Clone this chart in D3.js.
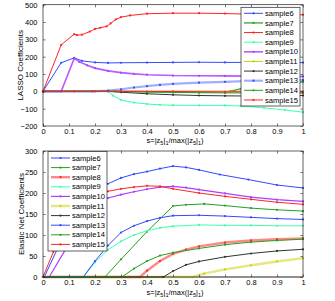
<!DOCTYPE html>
<html>
<head>
<meta charset="utf-8">
<script src="https://cdn.jsdelivr.net/npm/d3@7"></script>
<style>
body { margin: 0; background: #fff; }
text { font-family: "Liberation Sans", Arial, sans-serif; fill: #000; }
</style>
</head>
<body>
<svg id="chart" width="335" height="301"></svg>
<script>
// sample names, shared by both panels
var names = ["sample6", "sample7", "sample8", "sample9", "sample10",
             "sample11", "sample12", "sample13", "sample14", "sample15"];

// x ticks (both panels), y ticks per panel
var xTicks = [0, 0.1, 0.2, 0.3, 0.4, 0.5, 0.6, 0.7, 0.8, 0.9, 1];
var lassoTicks = [-200, -100, 0, 100, 200, 300, 400, 500];
var enTicks = [0, 50, 100, 150, 200, 250, 300];

// LASSO path, [s, coefficient]
var lasso6 = [[0,0],[0.07,165],[0.12,193],[0.15,176],[0.2,167],[0.25,164],[0.3,165],[0.4,166],[0.5,167],[0.6,168],[0.7,167],[0.8,167],[0.9,166],[1,166]];
var lasso7 = [[0,0],[0.3,0],[0.4,-2],[0.5,-3],[0.6,-3],[0.72,0],[0.76,15],[0.8,24],[0.9,41],[1,55]];
var lasso8 = [[0,0],[0.07,268],[0.12,330],[0.13,324],[0.15,327],[0.18,345],[0.2,360],[0.22,367],[0.245,375],[0.26,392],[0.28,415],[0.3,428],[0.335,438],[0.4,448],[0.5,451],[0.6,451],[0.7,449],[0.8,445],[0.9,443],[1,442]];
var lasso9 = [[0,0],[0.25,0],[0.27,-25],[0.3,-50],[0.35,-65],[0.4,-73],[0.45,-78],[0.5,-80],[0.6,-81],[0.7,-81],[0.76,-85],[0.85,-95],[0.93,-108],[1,-120]];
var lasso10 = [[0,0],[0.07,0],[0.12,190],[0.14,170],[0.17,150],[0.2,134],[0.25,118],[0.3,108],[0.35,101],[0.4,96],[0.5,91],[0.6,90],[0.7,89],[0.8,88],[0.9,87],[1,86]];
var lasso11 = [[0,0],[0.5,0],[1,-3]];
var lasso12 = [[0,0],[0.25,0],[0.3,-5],[0.4,-14],[0.5,-20],[0.6,-24],[0.7,-26],[0.8,-27],[0.9,-26],[1,-24]];
var lasso13 = [[0,0],[0.19,0],[0.25,5],[0.3,12],[0.35,22],[0.4,30],[0.45,37],[0.5,43],[0.6,50],[0.7,55],[0.8,60],[0.9,63],[1,65]];
var lasso14 = [[0,0],[0.28,0],[0.4,-4],[0.5,-6],[0.6,-8],[0.7,-9],[1,-10]];
var lasso15 = [[0,0],[0.12,0],[0.2,0],[0.3,0],[0.5,-1],[0.7,-3],[1,-2]];

// Elastic net path, [s, coefficient]
var en6 = [[0,0],[0.005,0],[0.053,64],[0.1,130],[0.15,178],[0.2,205],[0.25,222],[0.3,236],[0.35,245],[0.4,251],[0.45,258],[0.5,264],[0.55,261],[0.6,255],[0.68,244],[0.79,232],[0.9,219],[1,212]];
var en7 = [[0,0],[0.238,0],[0.3,42],[0.4,108],[0.5,169],[0.55,172],[0.62,174],[0.7,170],[0.8,164],[0.9,160],[1,157]];
var en8 = [[0,0],[0.373,0],[0.4,15],[0.45,38],[0.5,55],[0.55,65],[0.6,73],[0.7,82],[0.8,87],[0.9,90],[1,92]];
var en9 = [[0,0],[0.155,0],[0.2,35],[0.25,65],[0.3,85],[0.35,100],[0.4,110],[0.45,117],[0.5,121],[0.6,124],[0.7,123],[0.8,123],[0.9,122],[1,122]];
var en10 = [[0,0],[0.024,0],[0.085,64],[0.15,140],[0.2,172],[0.25,188],[0.3,196],[0.35,203],[0.4,209],[0.45,214],[0.5,216],[0.55,213],[0.6,208],[0.7,199],[0.8,190],[0.9,184],[1,180]];
var en11 = [[0,0],[0.575,0],[0.62,8],[0.7,18],[0.8,28],[0.9,37],[1,45]];
var en12 = [[0,0],[0.463,0],[0.5,14],[0.55,29],[0.6,37],[0.7,48],[0.8,56],[0.9,62],[1,66]];
var en13 = [[0,0],[0.155,0],[0.2,38],[0.25,75],[0.3,106],[0.35,122],[0.4,133],[0.45,141],[0.5,146],[0.6,147],[0.7,145],[0.8,142],[0.9,139],[1,137]];
var en14 = [[0,0],[0.303,0],[0.35,20],[0.4,38],[0.45,51],[0.5,58],[0.6,68],[0.7,77],[0.8,83],[0.9,87],[1,90]];
var en15 = [[0,0],[0.04,60],[0.1,135],[0.15,170],[0.2,192],[0.25,204],[0.3,210],[0.35,214],[0.4,217],[0.45,216],[0.5,210],[0.6,200],[0.7,192],[0.8,185],[0.9,178],[1,173]];

var lassoSeries = [lasso6, lasso7, lasso8, lasso9, lasso10, lasso11, lasso12, lasso13, lasso14, lasso15];
var enSeries = [en6, en7, en8, en9, en10, en11, en12, en13, en14, en15];

// styling
var colors = ["#2f4bff", "#22a022", "#ff2424", "#3cffaa", "#b03cff",
              "#c8d200", "#333333", "#2f4bff", "#22a022", "#ff2424"];
var lassoWidth = [1, 1.2, 1, 1, 1.6, 1, 1, 2.2, 1, 1];
var lassoAlpha = [1, 1, 1, 1, 0.85, 1, 1, 0.45, 1, 1];
var enWidth = [1, 1, 2.4, 1, 1.2, 2.4, 1, 1, 1, 1];
var enAlpha = [1, 1, 0.55, 1, 1, 0.5, 1, 1, 1, 1];

var svg = d3.select("#chart");
var left = 43, right = 303;

var x = d3.scaleLinear().domain([0, 1]).range([left, right]);

function drawPanel(cfg) {
    var y = d3.scaleLinear().domain(cfg.domain).range([cfg.bottom, cfg.top]);
    var g = svg.append("g");
    var tick = 2.6;

    // light zero baseline under the lines
    g.append("line")
        .attr("x1", x(0)).attr("x2", x(1))
        .attr("y1", y(0)).attr("y2", y(0))
        .attr("stroke", "#b8b8b0").attr("stroke-width", 1.6);

    var line = d3.line().x(function(d) { return x(d[0]); }).y(function(d) { return y(d[1]); });

    cfg.series.forEach(function(s, i) {
        g.append("path")
            .attr("d", line(s))
            .attr("fill", "none")
            .attr("stroke", colors[i])
            .attr("stroke-opacity", cfg.alpha[i])
            .attr("stroke-width", cfg.width[i]);
        g.selectAll(null).data(s).enter().append("circle")
            .attr("cx", function(d) { return x(d[0]); })
            .attr("cy", function(d) { return y(d[1]); })
            .attr("r", 1.1)
            .attr("fill", colors[i]);
    });

    // axes, ticks inward on all four sides
    var fmt = function(d) { return d3.format("")(d); };
    var ax = [
        g.append("g").attr("transform", "translate(0," + cfg.bottom + ")")
            .call(d3.axisBottom(x).tickValues(xTicks).tickSizeInner(-tick).tickSizeOuter(0).tickPadding(3).tickFormat(fmt)),
        g.append("g").attr("transform", "translate(0," + cfg.top + ")")
            .call(d3.axisTop(x).tickValues(xTicks).tickSizeInner(-tick).tickSizeOuter(0).tickFormat("")),
        g.append("g").attr("transform", "translate(" + left + ",0)")
            .call(d3.axisLeft(y).tickValues(cfg.ticks).tickSizeInner(-tick).tickSizeOuter(0).tickPadding(5.5)),
        g.append("g").attr("transform", "translate(" + right + ",0)")
            .call(d3.axisRight(y).tickValues(cfg.ticks).tickSizeInner(-tick).tickSizeOuter(0).tickFormat(""))
    ];
    ax.forEach(function(a) {
        a.select(".domain").remove();
        a.selectAll("line").attr("stroke", "#222").attr("stroke-width", 0.6);
        a.selectAll("text").attr("font-size", 7.5).attr("font-family", "Liberation Sans, Arial, sans-serif");
    });

    g.append("rect")
        .attr("x", left).attr("y", cfg.top)
        .attr("width", right - left).attr("height", cfg.bottom - cfg.top)
        .attr("fill", "none").attr("stroke", "#222").attr("stroke-width", 0.7);

    // y label
    g.append("text")
        .attr("transform", "translate(" + cfg.ylabelX + "," + (cfg.top + cfg.bottom) / 2 + ") rotate(-90)")
        .attr("text-anchor", "middle")
        .attr("font-size", 8)
        .text(cfg.ylabel);

    // x label s=|z5|1/max(|z5|1)
    var xl = g.append("text")
        .attr("x", (left + right) / 2 + 2).attr("y", cfg.xlabelY)
        .attr("text-anchor", "middle")
        .attr("font-size", 7.5);
    var parts = [["s=|z", 0], ["5", 1], ["|", 0], ["1", 1], ["/max(|z", 0], ["5", 1], ["|", 0], ["1", 1], [")", 0]];
    parts.forEach(function(p) {
        xl.append("tspan")
            .attr("font-size", p[1] ? 5.5 : 7.5)
            .attr("baseline-shift", p[1] ? "-30%" : null)
            .text(p[0]);
    });

    // legend
    var lg = svg.append("g").attr("transform", "translate(" + cfg.legX + "," + cfg.legY + ")");
    lg.append("rect")
        .attr("width", 59).attr("height", cfg.legH)
        .attr("fill", "#fff").attr("stroke", "#222").attr("stroke-width", 0.7);
    names.forEach(function(n, i) {
        var yy = cfg.legFirst + i * cfg.legStep;
        lg.append("line")
            .attr("x1", 3).attr("x2", 22).attr("y1", yy).attr("y2", yy)
            .attr("stroke", colors[i])
            .attr("stroke-opacity", cfg.alpha[i])
            .attr("stroke-width", cfg.width[i]);
        lg.append("circle").attr("cx", 12.5).attr("cy", yy).attr("r", 1.1).attr("fill", colors[i]);
        lg.append("text")
            .attr("x", 24).attr("y", yy).attr("dy", "0.35em")
            .attr("font-size", 7.6)
            .text(n);
    });
}

drawPanel({
    series: lassoSeries, width: lassoWidth, alpha: lassoAlpha,
    domain: [-200, 500], ticks: lassoTicks, top: 4.7, bottom: 126,
    ylabel: "LASSO Coefficients", ylabelX: 23, xlabelY: 143,
    legX: 241, legY: 7.3, legH: 98.7, legFirst: 6, legStep: 9.63
});

drawPanel({
    series: enSeries, width: enWidth, alpha: enAlpha,
    domain: [0, 300], ticks: enTicks, top: 151, bottom: 277,
    ylabel: "Elastic Net Coefficients", ylabelX: 24, xlabelY: 294.5,
    legX: 48, legY: 151.5, legH: 99.5, legFirst: 6.5, legStep: 9.6
});
</script>
</body>
</html>
